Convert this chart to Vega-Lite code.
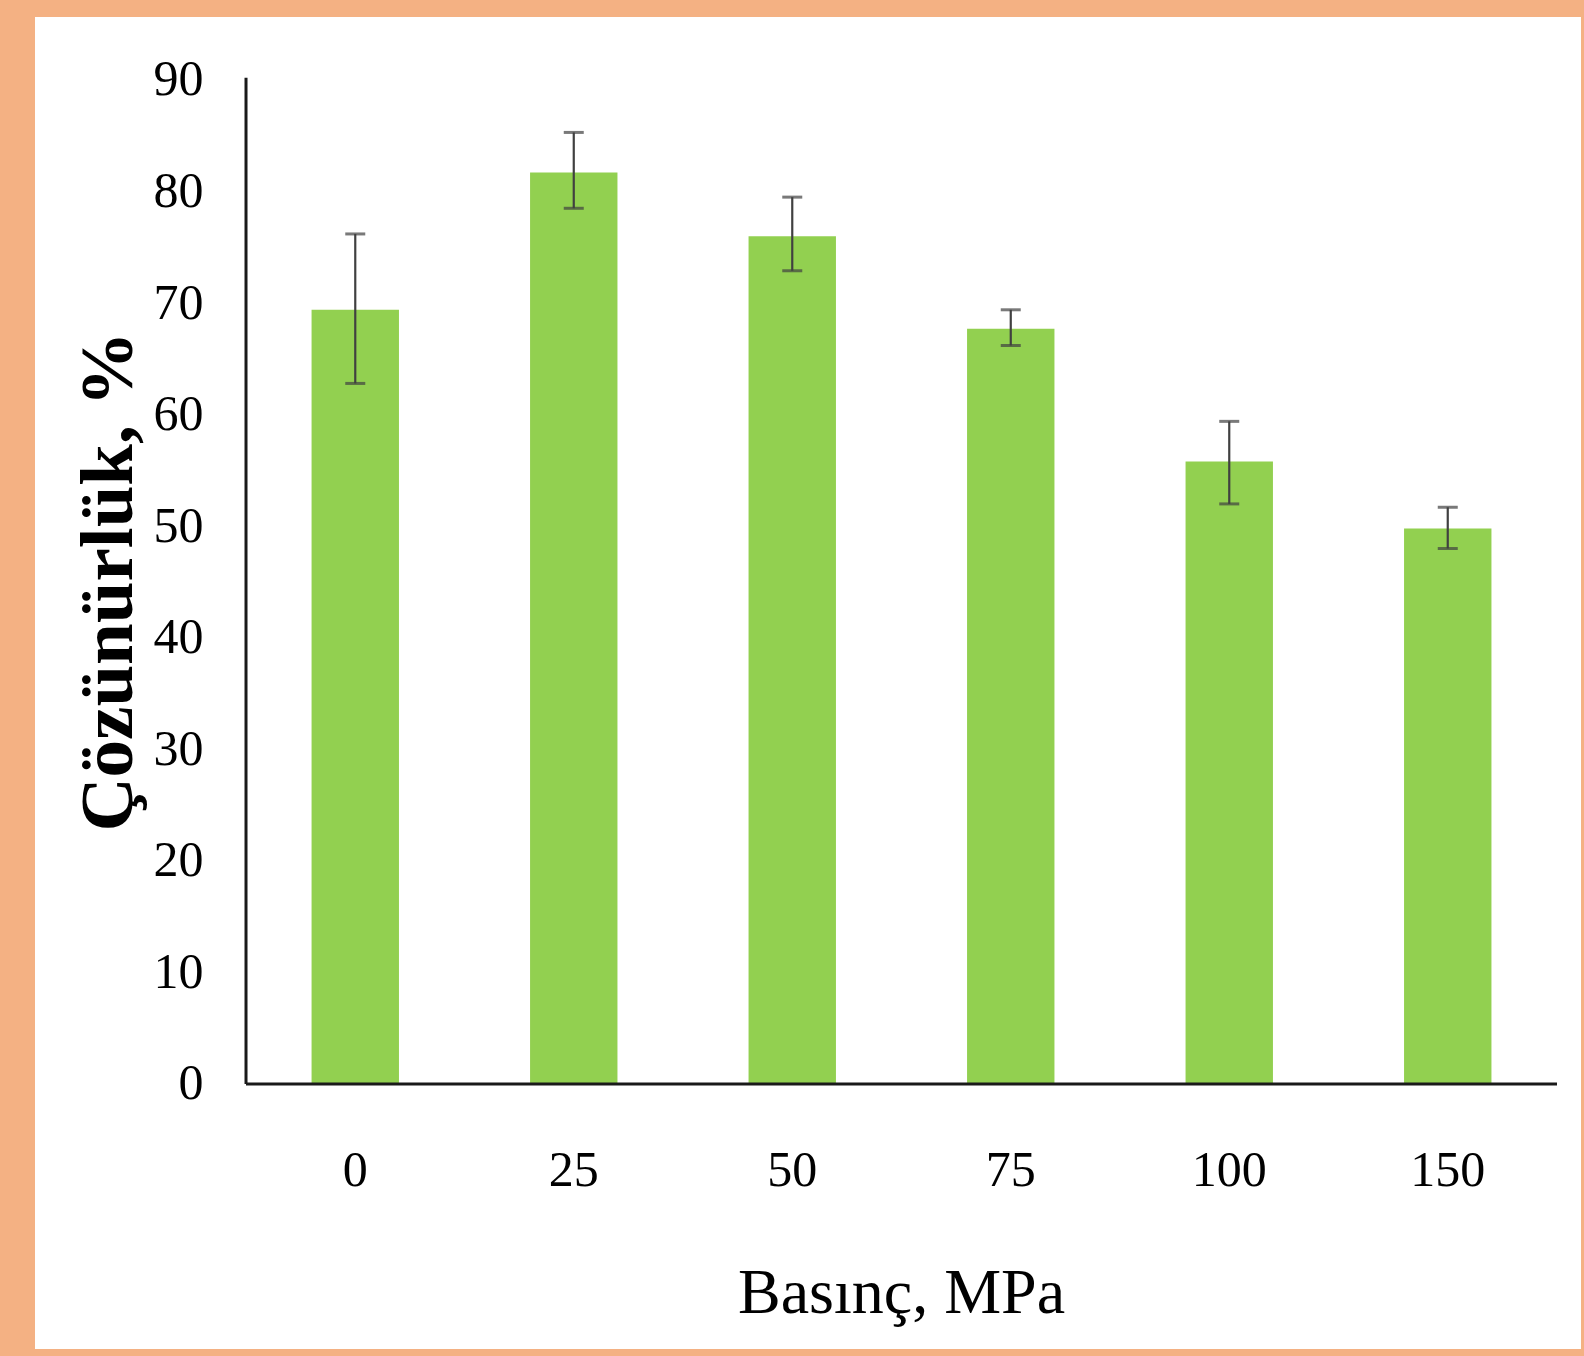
{
  "$schema": "https://vega.github.io/schema/vega-lite/v6.json",
  "width": 1546,
  "height": 1332,
  "autosize": {"type": "none"},
  "padding": {"left": 35, "top": 17, "right": 3, "bottom": 7},
  "background": "#F4B183",
  "config": {
    "view": {"fill": "#FFFFFF", "stroke": null},
    "font": "Liberation Serif"
  },
  "data": {
    "values": [
      {"pressure": 0, "value": 69.4, "lo": 62.8, "hi": 76.2},
      {"pressure": 25, "value": 81.7, "lo": 78.5, "hi": 85.3},
      {"pressure": 50, "value": 76.0, "lo": 72.9, "hi": 79.5},
      {"pressure": 75, "value": 67.7, "lo": 66.2, "hi": 69.4},
      {"pressure": 100, "value": 55.8, "lo": 52.0, "hi": 59.4},
      {"pressure": 150, "value": 49.8, "lo": 48.0, "hi": 51.7}
    ]
  },
  "layer": [
    {
      "mark": {"type": "bar", "color": "#92D050"},
      "encoding": {
        "x": {
          "field": "pressure",
          "type": "ordinal",
          "scale": {"paddingInner": 0.6, "paddingOuter": 0.8378, "align": 0.7554},
          "axis": {
            "title": "Basınç, MPa",
            "titleFont": "Liberation Serif",
            "titleFontSize": 64,
            "titleFontWeight": "normal",
            "titleColor": "#000000",
            "titleX": 866,
            "titleY": 228,
            "titleBaseline": "alphabetic",
            "titleAlign": "center",
            "labelAngle": 0,
            "labelFont": "Liberation Serif",
            "labelFontSize": 50,
            "labelColor": "#000000",
            "labelPadding": 61,
            "ticks": false,
            "tickSize": 0,
            "domain": false,
            "grid": false,
            "offset": -265
          }
        },
        "y": {
          "field": "value",
          "type": "quantitative",
          "scale": {"domain": [-23.755, 95.647], "nice": false, "zero": false},
          "axis": {
            "title": "Çözünürlük, %",
            "titleFont": "Liberation Serif",
            "titleFontSize": 75,
            "titleFontWeight": "bold",
            "titleColor": "#000000",
            "titleX": -99,
            "titleY": 564,
            "titleAlign": "center",
            "values": [0, 10, 20, 30, 40, 50, 60, 70, 80, 90],
            "labelFont": "Liberation Serif",
            "labelFontSize": 50,
            "labelColor": "#000000",
            "labelPadding": 43,
            "ticks": false,
            "tickSize": 0,
            "domain": false,
            "grid": false,
            "offset": -211
          }
        }
      }
    },
    {
      "mark": {"type": "rule", "color": "#404040", "strokeWidth": 2.2},
      "encoding": {
        "x": {"field": "pressure", "type": "ordinal"},
        "y": {"field": "lo", "type": "quantitative"},
        "y2": {"field": "hi"}
      }
    },
    {
      "mark": {"type": "tick", "color": "#404040", "size": 20, "thickness": 3, "orient": "horizontal"},
      "encoding": {
        "x": {"field": "pressure", "type": "ordinal"},
        "y": {"field": "lo", "type": "quantitative"}
      }
    },
    {
      "mark": {"type": "tick", "color": "#404040", "size": 20, "thickness": 3, "orient": "horizontal"},
      "encoding": {
        "x": {"field": "pressure", "type": "ordinal"},
        "y": {"field": "hi", "type": "quantitative"}
      }
    },
    {
      "data": {"values": [{"axis": "x"}]},
      "mark": {"type": "rule", "color": "#1a1a1a", "strokeWidth": 3},
      "encoding": {
        "x": {"datum": 0, "type": "ordinal", "bandPosition": -0.75},
        "x2": {"datum": 150, "bandPosition": 1.75},
        "y": {"datum": 0, "type": "quantitative"}
      }
    },
    {
      "data": {"values": [{"axis": "y"}]},
      "mark": {"type": "rule", "color": "#1a1a1a", "strokeWidth": 3},
      "encoding": {
        "x": {"datum": 0, "type": "ordinal", "bandPosition": -0.75},
        "y": {"datum": 0, "type": "quantitative"},
        "y2": {"datum": 90.2}
      }
    }
  ]
}
